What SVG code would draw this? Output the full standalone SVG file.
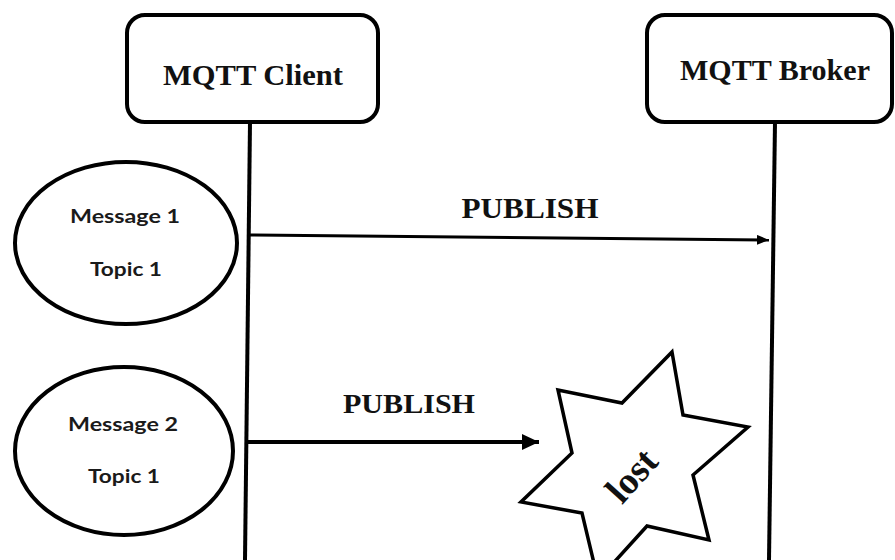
<svg xmlns="http://www.w3.org/2000/svg" width="895" height="560" viewBox="0 0 895 560">
<style>
.box{fill:#fff;stroke:#000;stroke-width:4}
.ell{fill:#fff;stroke:#000;stroke-width:4}
.life{stroke:#000;stroke-width:4;fill:none}
.serif{font-family:"Liberation Serif","Times New Roman",serif;font-weight:bold;fill:#111}
.sans{font-family:Lato,"Open Sans","Liberation Sans",sans-serif;font-weight:bold;fill:#1a1a1a;font-size:19px}
</style>
<defs>
<marker id="a1" viewBox="0 0 12 10" refX="12" refY="5" markerWidth="12" markerHeight="10" markerUnits="userSpaceOnUse" orient="auto"><path d="M0,0 L12,5 L0,10 Z" fill="#000"/></marker>
<marker id="a2" viewBox="0 0 17 16" refX="17" refY="8" markerWidth="17" markerHeight="16" markerUnits="userSpaceOnUse" orient="auto"><path d="M0,0 L17,8 L0,16 Z" fill="#000"/></marker>
</defs>
<rect width="895" height="560" fill="#fff"/>
<g id="connectors">
<line class="life" x1="250" y1="122" x2="245" y2="560"/>
<line class="life" x1="775" y1="122" x2="769" y2="560"/>
<line x1="250" y1="235" x2="769" y2="240" stroke="#000" stroke-width="3" marker-end="url(#a1)"/>
<line x1="247" y1="442" x2="539" y2="442" stroke="#000" stroke-width="4" marker-end="url(#a2)"/>
<text class="serif" x="530" y="218" font-size="29" text-anchor="middle" textLength="137" lengthAdjust="spacingAndGlyphs">PUBLISH</text>
<text class="serif" x="409" y="413" font-size="27" text-anchor="middle" textLength="132" lengthAdjust="spacingAndGlyphs">PUBLISH</text>
</g>
<g id="client">
<rect class="box" x="127" y="15" width="251" height="107" rx="18"/>
<text class="serif" x="253" y="85" font-size="29" text-anchor="middle" textLength="180" lengthAdjust="spacingAndGlyphs">MQTT Client</text>
</g>
<g id="broker">
<rect class="box" x="647" y="15" width="245" height="107" rx="18"/>
<text class="serif" x="775" y="80" font-size="29" text-anchor="middle" textLength="190" lengthAdjust="spacingAndGlyphs">MQTT Broker</text>
</g>
<g id="message1">
<ellipse class="ell" cx="126" cy="243" rx="111" ry="81"/>
<text class="sans" x="125" y="223" text-anchor="middle" textLength="110" lengthAdjust="spacingAndGlyphs">Message 1</text>
<text class="sans" x="126" y="276" text-anchor="middle" textLength="72" lengthAdjust="spacingAndGlyphs">Topic 1</text>
</g>
<g id="message2">
<ellipse class="ell" cx="124" cy="451" rx="109" ry="84"/>
<text class="sans" x="123" y="431" text-anchor="middle" textLength="110" lengthAdjust="spacingAndGlyphs">Message 2</text>
<text class="sans" x="124" y="483" text-anchor="middle" textLength="72" lengthAdjust="spacingAndGlyphs">Topic 1</text>
</g>
<g id="lost">
<polygon points="672,352 683,415 748,427 693,475 709,540 647,526 598,580 582,513 521,502 572,453 558,390 622,403" fill="#fff" stroke="#000" stroke-width="3.5" stroke-linejoin="miter"/>
<text class="serif" x="0" y="0" font-size="38" text-anchor="middle" transform="translate(641,484) rotate(-48)">lost</text>
</g>
</svg>
